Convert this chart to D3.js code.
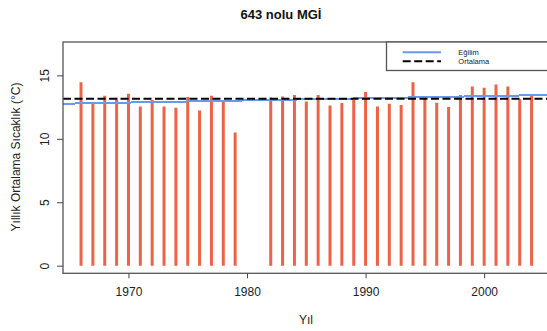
<!DOCTYPE html>
<html>
<head>
<meta charset="utf-8">
<script src="https://cdn.jsdelivr.net/npm/d3@7"></script>
<style>
  html, body { margin: 0; padding: 0; background: #fff; }
  svg { display: block; font-family: "Liberation Sans", Arial, sans-serif; }
</style>
</head>
<body>
<svg id="chart" width="547" height="331"></svg>
<script>
// Annual mean temperature per year (°C)
const years = [1966, 1967, 1968, 1969, 1970, 1971, 1972, 1973, 1974, 1975, 1976, 1977, 1978, 1979,
               1982, 1983, 1984, 1985, 1986, 1987, 1988, 1989, 1990, 1991, 1992, 1993, 1994,
               1995, 1996, 1997, 1998, 1999, 2000, 2001, 2002, 2003, 2004];
const temps = [14.45, 12.74, 13.39, 13.23, 13.55, 12.55, 13.05, 12.55, 12.45, 13.29, 12.24, 13.39, 12.92, 10.5,
               13.26, 13.34, 13.45, 12.95, 13.45, 12.63, 12.82, 13.08, 13.68, 12.55, 12.76, 12.66, 14.45,
               13.23, 12.84, 12.5, 13.45, 14.13, 14.02, 14.29, 14.13, 13.11, 13.45];

// Trend line given by two points on it
const trendYears = [1966, 2004];
const trendValues = [12.79, 13.43];

const xTicks = [1970, 1980, 1990, 2000];
const yTicks = [0, 5, 10, 15];
const legendLabels = ["Eğilim", "Ortalama"];

const svg = d3.select("#chart");
const plotLeft = 63, plotRight = 549.6, plotTop = 42, plotBottom = 273.3;

const x = d3.scaleLinear().domain([1964.48, 2005.52]).range([plotLeft, plotRight]);
const y = d3.scaleLinear().domain([-0.6, 17.63]).range([plotBottom, plotTop]);

svg.append("defs").append("clipPath").attr("id", "plotclip")
  .append("rect").attr("x", plotLeft).attr("y", plotTop)
  .attr("width", plotRight - plotLeft).attr("height", plotBottom - plotTop);

const plot = svg.append("g").attr("clip-path", "url(#plotclip)");

// Vertical bars from zero
plot.selectAll("line.bar").data(years).join("line")
  .attr("class", "bar")
  .attr("x1", d => x(d)).attr("x2", d => x(d))
  .attr("y1", y(0)).attr("y2", (d, i) => y(temps[i]))
  .attr("stroke", "#EE6348").attr("stroke-width", 3);

// Trend line extended across the plotting region
const slope = (trendValues[1] - trendValues[0]) / (trendYears[1] - trendYears[0]);
const trendAt = yr => trendValues[0] + slope * (yr - trendYears[0]);
const xd = x.domain();
plot.append("line")
  .attr("x1", x(xd[0])).attr("y1", y(trendAt(xd[0])))
  .attr("x2", x(xd[1])).attr("y2", y(trendAt(xd[1])))
  .attr("stroke", "#6A98EC").attr("stroke-width", 2)
  .attr("shape-rendering", "crispEdges");

// Mean line
const meanVal = d3.mean(temps);
plot.append("line")
  .attr("x1", plotLeft).attr("x2", plotRight)
  .attr("y1", y(meanVal)).attr("y2", y(meanVal))
  .attr("stroke", "#000").attr("stroke-width", 2)
  .attr("stroke-dasharray", "8,3.5");

// Frame
svg.append("rect")
  .attr("x", plotLeft).attr("y", plotTop)
  .attr("width", plotRight - plotLeft).attr("height", plotBottom - plotTop)
  .attr("fill", "none").attr("stroke", "#555").attr("stroke-width", 1.3);

// Axes
const xAxis = d3.axisBottom(x).tickValues(xTicks).tickFormat(d3.format("d")).tickSize(5).tickPadding(9);
const gx = svg.append("g").attr("transform", `translate(0,${plotBottom})`).call(xAxis);
gx.select(".domain").remove();
gx.selectAll("line").attr("stroke", "#444");
gx.selectAll("text").attr("font-size", 12).attr("fill", "#222")
  .attr("font-family", "Liberation Sans, Arial, sans-serif");

const yAxis = d3.axisLeft(y).tickValues(yTicks).tickSize(6).tickPadding(0);
const gy = svg.append("g").attr("transform", `translate(${plotLeft},0)`).call(yAxis);
gy.select(".domain").remove();
gy.selectAll("line").attr("stroke", "#444");
gy.selectAll("text").remove();
gy.selectAll(".tick").append("text")
  .attr("transform", "translate(-18,0) rotate(-90)")
  .attr("text-anchor", "middle").attr("dy", "0.35em")
  .attr("font-size", 12).attr("fill", "#222")
  .attr("font-family", "Liberation Sans, Arial, sans-serif")
  .text(d => d);

// Titles
svg.append("text").attr("x", 281).attr("y", 18.5).attr("text-anchor", "middle")
  .attr("font-size", 13).attr("font-weight", "bold").attr("fill", "#111")
  .text("643 nolu MGİ");
svg.append("text").attr("x", 306).attr("y", 324).attr("text-anchor", "middle")
  .attr("font-size", 12).attr("fill", "#222").text("Yıl");
svg.append("text").attr("transform", "translate(20,157) rotate(-90)").attr("text-anchor", "middle")
  .attr("font-size", 12).attr("fill", "#222").text("Yıllık Ortalama Sıcaklık (°C)");

// Legend
const lg = svg.append("g");
lg.append("rect").attr("x", 386.5).attr("y", plotTop).attr("width", plotRight - 386.5).attr("height", 28.5)
  .attr("fill", "#fff").attr("stroke", "#555").attr("stroke-width", 1.3);
const legendStyles = [
  { color: "#6A98EC", dash: null },
  { color: "#000", dash: "8,3.5" }
];
legendLabels.forEach((lab, i) => {
  const ly = 52.3 + i * 9;
  lg.append("line").attr("x1", 402.7).attr("x2", 441).attr("y1", ly).attr("y2", ly)
    .attr("stroke", legendStyles[i].color).attr("stroke-width", 2)
    .attr("stroke-dasharray", legendStyles[i].dash);
  lg.append("text").attr("x", 458.3).attr("y", ly).attr("dy", "0.35em")
    .attr("font-size", 7.5).attr("fill", "#222").text(lab);
});
</script>
</body>
</html>
